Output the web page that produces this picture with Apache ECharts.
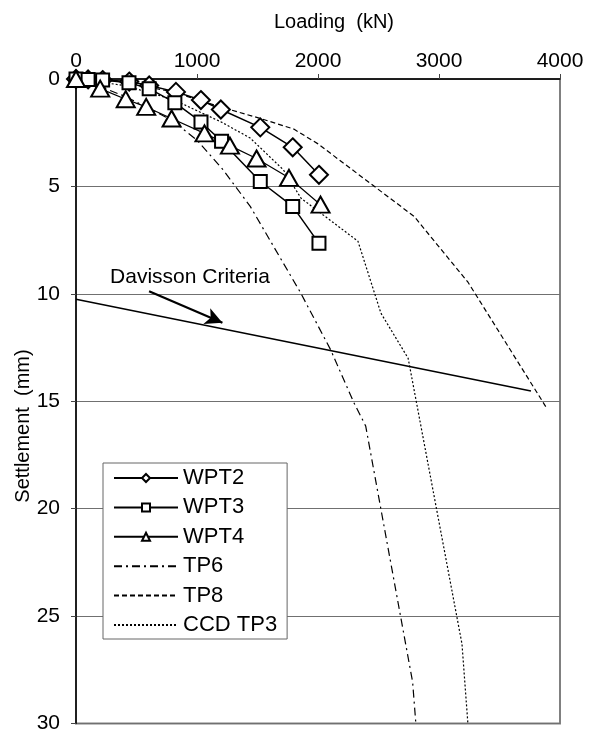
<!DOCTYPE html>
<html>
<head>
<meta charset="utf-8">
<script src="https://cdn.jsdelivr.net/npm/echarts@6/dist/echarts.min.js"></script>
<style>html,body{margin:0;padding:0;background:#fff}#c{width:592px;height:734px}</style>
</head>
<body>
<div id="c"></div>
<script>
// ---- data (Loading kN, Settlement mm) ----
const xTicks = [0, 1000, 2000, 3000, 4000];
const yTicks = [0, 5, 10, 15, 20, 25, 30];
const WPT2 = [[0,0],[100,0.02],[220,0.05],[440,0.12],[605,0.3],[826,0.6],[1032,0.98],[1197,1.42],[1523,2.25],[1791,3.18],[2008,4.46]];
const WPT3 = [[0,0],[100,0.02],[220,0.05],[438,0.17],[605,0.45],[817,1.1],[1033,2.0],[1203,2.9],[1523,4.77],[1791,5.93],[2008,7.65]];
const WPT4 = [[0,0],[200,0.45],[411,0.94],[580,1.3],[790,1.84],[1062,2.53],[1272,3.1],[1492,3.7],[1760,4.6],[2021,5.85]];
const TP6 = [[0,0],[200,0.35],[400,0.8],[600,1.35],[800,1.95],[1000,2.85],[1216,4.23],[1440,5.93],[1855,9.94],[2104,12.6],[2295,15.05],[2394,16.15],[2782,28.07],[2810,30.1]];
const TP8 = [[0,0],[300,0.06],[800,0.6],[1218,1.34],[1520,1.83],[1800,2.33],[2000,3.02],[2795,6.4],[3241,9.47],[3888,15.3]];
const CCDTP3 = [[0,0],[400,0.3],[800,0.95],[1200,2.0],[1440,2.75],[1714,4.23],[1860,5.55],[2330,7.55],[2520,10.9],[2745,13.0],[3190,26.3],[3240,30.1]];
const davisson = [[0,10.25],[3760,14.52]];
const davissonLabel = 'Davisson Criteria';
const arrowFrom = [604, 9.88];
const arrowTo = [1210, 11.35];
const seriesNames = ['WPT2','WPT3','WPT4','TP6','TP8','CCD TP3'];

const FONT = 'Liberation Sans, Arial, sans-serif';
const chart = echarts.init(document.getElementById('c'), null, {renderer: 'canvas'});

function markerSeries(name, data, symbol, size, lw) {
  return {
    name, type: 'line', data, symbol, symbolSize: size, showSymbol: true,
    lineStyle: {color: '#000', width: lw},
    itemStyle: {color: '#fff', borderColor: '#000', borderWidth: 2},
    emphasis: {disabled: true}, animation: false
  };
}
function dashSeries(name, data, dash, lw) {
  return {
    name, type: 'line', data, symbol: 'none', showSymbol: false,
    lineStyle: {color: '#000', width: lw, type: dash},
    itemStyle: {color: 'rgba(0,0,0,0)', borderColor: 'rgba(0,0,0,0)', borderWidth: 0},
    emphasis: {disabled: true}, animation: false
  };
}

chart.setOption({
  animation: false,
  backgroundColor: '#fff',
  grid: {left: 76, right: 32, top: 79, bottom: 9, show: true, borderColor: '#808080', borderWidth: 2, backgroundColor: 'transparent'},
  xAxis: {
    type: 'value', position: 'top', min: xTicks[0], max: xTicks[xTicks.length-1], interval: 1000,
    axisLine: {show: true, onZero: false, lineStyle: {color: '#000', width: 1.5}},
    axisTick: {show: true, inside: false, length: 5, lineStyle: {color: '#444'}},
    axisLabel: {fontSize: 21, color: '#000', fontFamily: FONT, margin: 7, formatter: v => String(v)},
    splitLine: {show: false}
  },
  yAxis: {
    type: 'value', inverse: true, min: yTicks[0], max: yTicks[yTicks.length-1], interval: 5,
    axisLine: {show: true, onZero: false, lineStyle: {color: '#000', width: 1.5}},
    axisTick: {show: true, inside: false, length: 5, lineStyle: {color: '#444'}},
    axisLabel: {fontSize: 21, color: '#000', fontFamily: FONT, margin: 16, formatter: v => String(v)},
    splitLine: {show: true, lineStyle: {color: '#707070', width: 1}}
  },
  legend: {
    data: seriesNames, orient: 'vertical', left: 103, top: 463,
    padding: [4, 10, 3, 10], itemWidth: 64, itemHeight: 10, itemGap: 7.4,
    backgroundColor: '#fff', borderColor: '#666', borderWidth: 1,
    textStyle: {fontSize: 22, lineHeight: 22, color: '#000', fontFamily: FONT},
    selectedMode: false
  },
  graphic: [
    {type: 'text', x: 334, y: 22, style: {text: 'Loading  (kN)', fontSize: 20, fontFamily: FONT, fill: '#000', textAlign: 'center', textVerticalAlign: 'middle'}},
    {type: 'text', x: 23, y: 426, rotation: Math.PI/2, style: {text: 'Settlement  (mm)', fontSize: 20, fontFamily: FONT, fill: '#000', textAlign: 'center', textVerticalAlign: 'middle'}},
    {type: 'text', x: 190, y: 277, style: {text: davissonLabel, fontSize: 21, fontFamily: FONT, fill: '#000', textAlign: 'center', textVerticalAlign: 'middle'}}
  ],
  series: [
    markerSeries('WPT2', WPT2, 'diamond', 18, 1.5),
    markerSeries('WPT3', WPT3, 'rect', 13, 1.5),
    markerSeries('WPT4', WPT4, 'triangle', [18,16], 1.2),
    dashSeries('TP6', TP6, [8,4,2,4], 1.2),
    dashSeries('TP8', TP8, [5,3], 1.2),
    dashSeries('CCD TP3', CCDTP3, [2,2], 1.2),
    {
      name: 'Davisson', type: 'line', data: davisson, symbol: 'none',
      lineStyle: {color: '#000', width: 1.5}, emphasis: {disabled: true}, animation: false,
      markLine: {
        silent: true, symbol: ['none', 'arrow'], symbolSize: [13, 17],
        lineStyle: {color: '#000', width: 2.2, type: 'solid'},
        label: {show: false},
        data: [[{coord: arrowFrom}, {coord: arrowTo}]]
      }
    }
  ]
});
</script>
</body>
</html>
